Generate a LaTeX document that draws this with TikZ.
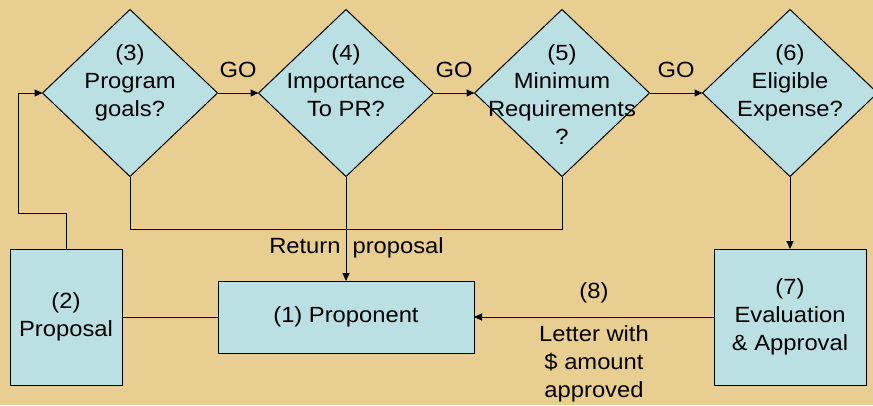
\documentclass[tikz,border=0pt]{standalone}
\usepackage{fontspec}
\setmainfont[FakeStretch=1.08]{Liberation Sans}
\usetikzlibrary{shapes.geometric,arrows.meta}
\definecolor{parchment}{RGB}{233,206,146}
\definecolor{boxblue}{RGB}{187,224,228}

\begin{document}
\begin{tikzpicture}[x=1pt,y=-1pt,inner sep=0pt,outer sep=0pt,line width=1pt,
  >={Triangle[length=8pt,width=7pt]},
  every node/.style={font=\fontsize{22}{28}\selectfont,align=center},
  decision/.style={draw,diamond,fill=boxblue,minimum width=175pt,minimum height=167pt},
  qtext/.style={anchor=north},
  stepbox/.style={draw,rectangle,fill=boxblue}]

\fill[parchment] (0,0) rectangle (873,405);
\useasboundingbox (0,0) rectangle (873,405);

\draw (130,93) node[decision] (goals) {};
\draw (346,93) node[decision] (importance) {};
\draw (562,93) node[decision] (minreq) {};
\draw (790,93) node[decision] (expense) {};
\draw (130,45) node[qtext] (goalst) {(3)\\Program\\goals?};
\draw (346,45) node[qtext] (importancet) {(4)\\Importance\\To PR?};
\draw (562,45) node[qtext] (minreqt) {(5)\\Minimum\\Requirements\\?};
\draw (790,45) node[qtext] (expenset) {(6)\\Eligible\\Expense?};

\draw (66,317) node[stepbox,minimum width=112pt,minimum height=136pt] (proposal) {(2)\\Proposal};
\draw (346,317) node[stepbox,minimum width=256pt,minimum height=72pt] (proponent) {(1) Proponent};
\draw (790,317) node[stepbox,minimum width=152pt,minimum height=136pt] (evaluation) {(7)\\Evaluation\\\& Approval};

\draw[->] (goals.east) -- node[above=15pt] {GO} (importance.west);
\draw[->] (importance.east) -- node[above=15pt] {GO} (minreq.west);
\draw[->] (minreq.east) -- node[above=15pt] {GO} (expense.west);
\draw[->] (expense.south) -- (evaluation.north);
\draw[->] (evaluation.west) -- node[above=14pt] {(8)} node[below=9pt] {Letter with\\\$ amount\\approved} (proponent.east);
\draw (proposal.east) -- (proponent.west);
\draw (goals.south) -- ++(0,53) -| (minreq.south);
\draw[->] (importance.south) -- node[pos=.686,xshift=10.5pt] {Return\hspace{12pt}proposal} (proponent.north);
\draw[->] (proposal.north) -- ++(0,-36) -- ++(-48,0) |- (goals.west);

\end{tikzpicture}
\end{document}
